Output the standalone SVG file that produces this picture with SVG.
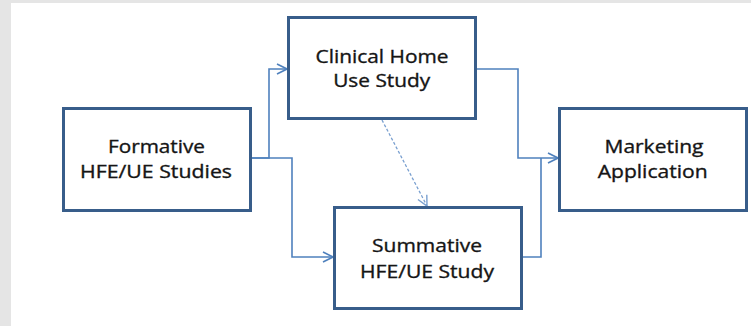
<svg xmlns="http://www.w3.org/2000/svg" width="751" height="326" viewBox="0 0 751 326">
<style>
.box{fill:#ffffff;stroke:#385d8a;stroke-width:3}
.lbl{font-family:"Open Sans","Liberation Sans",sans-serif;font-size:18.5px;fill:#151515;stroke:#151515;stroke-width:0.35;text-anchor:middle}
.con{fill:none;stroke:#4f81bd;stroke-width:1.6}
.dash{fill:none;stroke:#7aa0d0;stroke-width:1.3;stroke-dasharray:3 2}
</style>
<defs>
<marker id="arr" viewBox="0 0 12 12" refX="11" refY="6" markerWidth="12" markerHeight="12" markerUnits="userSpaceOnUse" orient="auto">
<path d="M1,1 L11,6 L1,11" fill="none" stroke="#4f81bd" stroke-width="1.6"/>
</marker>
<marker id="arrd" viewBox="0 0 12 12" refX="11" refY="6" markerWidth="12" markerHeight="12" markerUnits="userSpaceOnUse" orient="auto">
<path d="M1,1 L11,6 L1,11" fill="none" stroke="#7aa0d0" stroke-width="1.4"/>
</marker>
</defs>
<rect x="0" y="0" width="751" height="326" fill="#e5e5e5"/>
<rect x="11" y="3" width="740" height="323" fill="#ffffff"/>
<g id="connectors">
<path class="con" d="M250,158 H269 V69 H287" marker-end="url(#arr)"/>
<path class="con" d="M250,158 H292 V257 H333" marker-end="url(#arr)"/>
<path class="con" d="M476,69 H518 V158 H558" marker-end="url(#arr)"/>
<path class="con" d="M522,257 H541 V158"/>
<path class="dash" d="M382,120 L427,206" marker-end="url(#arrd)"/>
</g>
<g id="formative">
<rect class="box" x="63.5" y="108.5" width="187" height="102"/>
<text class="lbl" x="156.5" y="153.3" textLength="97" lengthAdjust="spacingAndGlyphs">Formative</text>
<text class="lbl" x="156" y="177.5" textLength="152" lengthAdjust="spacingAndGlyphs">HFE/UE Studies</text>
</g>
<g id="clinical">
<rect class="box" x="288.5" y="17.5" width="187" height="101"/>
<text class="lbl" x="382" y="63.3" textLength="133" lengthAdjust="spacingAndGlyphs">Clinical Home</text>
<text class="lbl" x="381.7" y="87.3" textLength="97" lengthAdjust="spacingAndGlyphs">Use Study</text>
</g>
<g id="summative">
<rect class="box" x="334.5" y="207.5" width="187" height="101"/>
<text class="lbl" x="427" y="251.7" textLength="110" lengthAdjust="spacingAndGlyphs">Summative</text>
<text class="lbl" x="427" y="277.7" textLength="134" lengthAdjust="spacingAndGlyphs">HFE/UE Study</text>
</g>
<g id="marketing">
<rect class="box" x="559.5" y="108.5" width="187" height="102"/>
<text class="lbl" x="654" y="153.3" textLength="99" lengthAdjust="spacingAndGlyphs">Marketing</text>
<text class="lbl" x="652.7" y="178.3" textLength="110" lengthAdjust="spacingAndGlyphs">Application</text>
</g>
</svg>
